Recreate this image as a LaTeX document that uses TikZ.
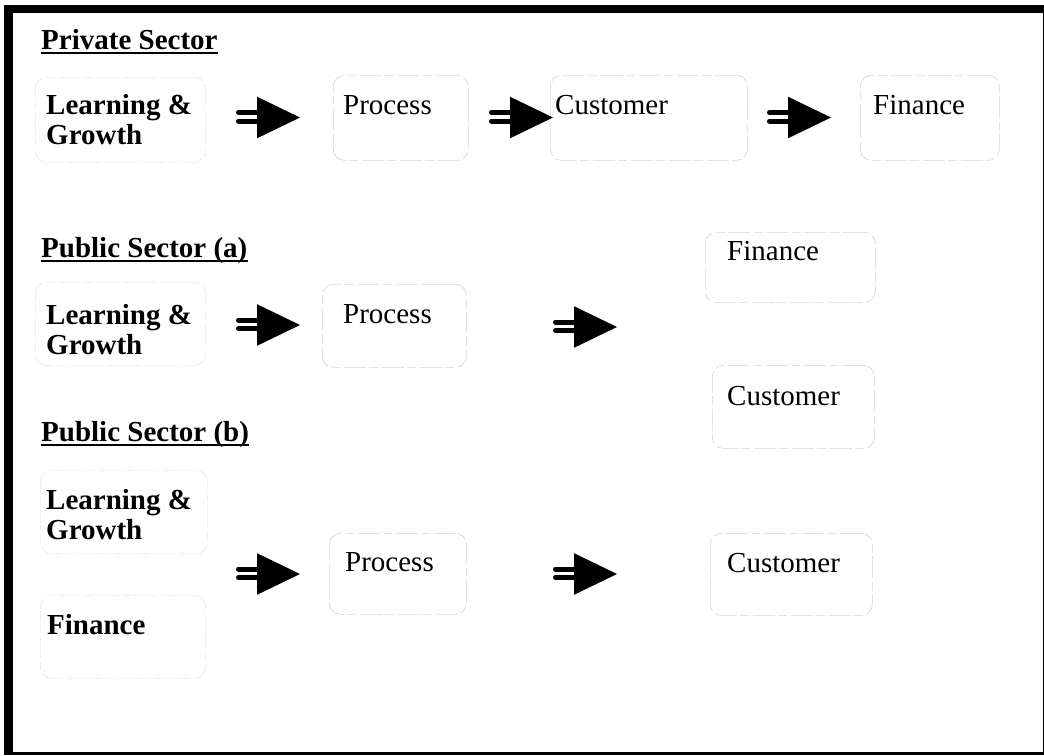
\documentclass[tikz,border=0pt]{standalone}
\usepackage{fontspec}
\setmainfont{Liberation Serif}
\begin{document}
\begin{tikzpicture}[x=1pt,y=-1pt,
  lbl/.style={inner sep=0pt, anchor=base west, align=left,
              font=\fontsize{29}{30}\selectfont},
  bold/.style={lbl, font=\fontsize{29}{30}\selectfont\bfseries},
  card/.style={draw=black!17, line width=0.7pt, rounded corners=11pt,
               dash pattern=on 22pt off 3pt on 9pt off 4pt,
               inner sep=0pt, anchor=north west},
  faintcard/.style={card, draw=black!9},
  uline/.style={line width=2pt},
  fatarrow/.pic={
    \fill (21,-20.8) -- (64,0) -- (21,20.8) -- cycle;
    \draw[line width=5pt, line cap=round] (2.5,-5) -- (22,-5);
    \draw[line width=5pt, line cap=round] (2.5,3.5) -- (22,3.5);
  }]
\useasboundingbox (0,0) rectangle (1044,755);

% outer frame: heavy top and left edges, thin bottom and right
\fill (4,5) rectangle (13,755);
\fill (4,5) rectangle (1044,13);
\fill (4,751.5) rectangle (1044,755);
\fill (1042.5,5) rectangle (1044,755);

% ---------- private sector ----------
\node[bold] (ps) at (41,49) {Private Sector};
\draw[uline] ([yshift=-3.5pt]ps.base west) -- ([yshift=-3.5pt]ps.base east);

\node[faintcard, minimum width=170pt, minimum height=85pt] (lgPbox) at (35,77) {};
\node[card, minimum width=135pt, minimum height=85pt] (prPbox) at (333,75) {};
\node[card, minimum width=197pt, minimum height=85pt] (cuPbox) at (550,75) {};
\node[card, minimum width=139pt, minimum height=85pt] (fiPbox) at (860,75) {};

% two-line labels: the base anchor sits on the last line
\node[bold] (lgP) at (46,144) {Learning \&\\Growth};
\node[lbl] (prP) at (343,114) {Process};
\node[lbl] (cuP) at (555,114) {Customer};
\node[lbl] (fiP) at (873,114) {Finance};

\pic (arrP1) at (236,117.5) {fatarrow};
\pic (arrP2) at (489,117.5) {fatarrow};
\pic (arrP3) at (767,117.5) {fatarrow};

% ---------- public sector (a) ----------
\node[bold] (pa) at (41,257) {Public Sector (a)};
\draw[uline] ([yshift=-4pt]pa.base west) -- ([yshift=-4pt]pa.base east);

\node[faintcard, minimum width=170pt, minimum height=83pt] (lgAbox) at (35,282) {};
\node[card, minimum width=144pt, minimum height=83pt] (prAbox) at (322,284) {};
\node[card, minimum width=170pt, minimum height=70pt] (fiAbox) at (705,232) {};
\node[card, minimum width=162pt, minimum height=83pt] (cuAbox) at (712,365) {};

\node[bold] (lgA) at (46,354) {Learning \&\\Growth};
\node[lbl] (prA) at (343,323) {Process};
\node[lbl] (fiA) at (727,260) {Finance};
\node[lbl] (cuA) at (727,405) {Customer};

\pic (arrA1) at (236,325) {fatarrow};
\pic (arrA2) at (553,327) {fatarrow};

% ---------- public sector (b) ----------
\node[bold] (pb) at (41,441) {Public Sector (b)};
\draw[uline] ([yshift=-4pt]pb.base west) -- ([yshift=-4pt]pb.base east);

\node[faintcard, minimum width=167pt, minimum height=83pt] (lgBbox) at (40,470) {};
\node[faintcard, minimum width=165pt, minimum height=83pt] (fiBbox) at (40,595) {};
\node[card, minimum width=137pt, minimum height=81pt] (prBbox) at (329,533) {};
\node[card, minimum width=162pt, minimum height=82pt] (cuBbox) at (710,533) {};

\node[bold] (lgB) at (46,539) {Learning \&\\Growth};
\node[bold] (fiB) at (47,634) {Finance};
\node[lbl] (prB) at (345,571) {Process};
\node[lbl] (cuB) at (727,572) {Customer};

\pic (arrB1) at (236,574) {fatarrow};
\pic (arrB2) at (553,574) {fatarrow};
\end{tikzpicture}
\end{document}
